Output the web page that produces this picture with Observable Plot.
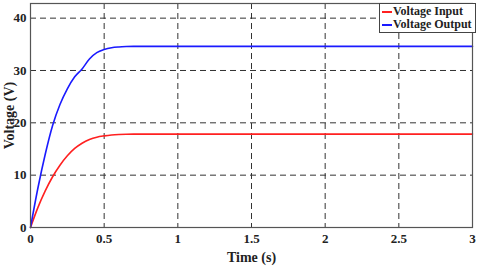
<!DOCTYPE html>
<html><head><meta charset="utf-8">
<script src="https://cdn.jsdelivr.net/npm/d3@7"></script>
<script src="https://cdn.jsdelivr.net/npm/@observablehq/plot@0.6"></script>
<style>
body{margin:0;background:#fff;}
#wrap{position:relative;width:480px;height:266px;font-family:'Liberation Serif',serif;}
#wrap svg text{font-family:'Liberation Serif',serif;font-weight:bold;}
#legend{position:absolute;left:379px;top:3px;border:1px solid #444;background:#fff;padding:1px 3px 1px 2px;font-weight:bold;font-size:12px;line-height:13px;color:#222;font-family:'Liberation Serif',serif;}
#legend .row{display:flex;align-items:center;white-space:nowrap;}
#legend .sw{display:inline-block;width:10px;height:2px;margin-right:1px;}
</style></head>
<body><div id="wrap"></div>
<script>
const time = [0,0.05,0.1,0.15,0.2,0.25,0.3,0.35,0.4,0.45,0.5,0.55,0.6,0.65,0.7,0.8,1,3];
const voltageInput  = [0,3.8,7.0,9.7,11.9,13.7,15.1,16.1,16.8,17.25,17.5,17.68,17.78,17.83,17.85,17.85,17.85,17.85];
const voltageOutput = [0,7.5,14,19.5,23.5,26.5,28.8,30.3,32.2,33.4,34.0,34.35,34.5,34.57,34.6,34.6,34.6,34.6];
const seriesNames = ["Voltage Input","Voltage Output"];
const seriesColors = ["#ff2020","#1a1aff"];
const xTicks = [0,0.5,1,1.5,2,2.5,3];
const xTickLabels = ["0","0.5","1","1.5","2","2.5","3"];
const yTicks = [0,10,20,30,40];

const data = [];
time.forEach((t,i)=>{
  data.push({t, v: voltageInput[i], s: seriesNames[0]});
  data.push({t, v: voltageOutput[i], s: seriesNames[1]});
});

const chart = Plot.plot({
  width: 480, height: 266,
  marginLeft: 30, marginRight: 8, marginTop: 3, marginBottom: 39,
  style: {fontFamily: "'Liberation Serif', serif", fontWeight: "bold", fontSize: "13px", color: "#222", background: "#fff"},
  x: {domain: [0,3], ticks: xTicks, tickFormat: (d,i)=>xTickLabels[i], tickSize: 0, tickPadding: 6, label: "Time (s)", labelArrow: "none", labelAnchor: "center", labelOffset: 34},
  y: {domain: [0,42.8], ticks: yTicks, tickSize: 0, tickPadding: 4, label: "Voltage (V)", labelArrow: "none", labelAnchor: "center", labelOffset: 26},
  color: {domain: seriesNames, range: seriesColors},
  marks: [
    Plot.gridX(xTicks, {stroke: "#333", strokeOpacity: 1, strokeDasharray: "6,4", strokeWidth: 1}),
    Plot.gridY(yTicks, {stroke: "#333", strokeOpacity: 1, strokeDasharray: "6,4", strokeWidth: 1}),
    Plot.line(data, {x: "t", y: "v", stroke: "s", z: "s", strokeWidth: 1.6, curve: "monotone-x"}),
    Plot.frame({stroke: "#555", strokeWidth: 1.2})
  ]
});
const wrap = document.getElementById("wrap");
wrap.appendChild(chart);
d3.select(chart).selectAll("text").text(function(){ return this.textContent.replace(/\s*[↑→]$/,""); });
d3.select(chart).selectAll("g[aria-label='x-axis label'] text, g[aria-label='y-axis label'] text").style("font-size","14px");

const legend = document.createElement("div");
legend.id = "legend";
seriesNames.forEach((n,i)=>{
  const r = document.createElement("div"); r.className = "row";
  const sw = document.createElement("span"); sw.className = "sw"; sw.style.background = seriesColors[i];
  r.appendChild(sw); r.appendChild(document.createTextNode(n));
  legend.appendChild(r);
});
wrap.appendChild(legend);
</script></body></html>
